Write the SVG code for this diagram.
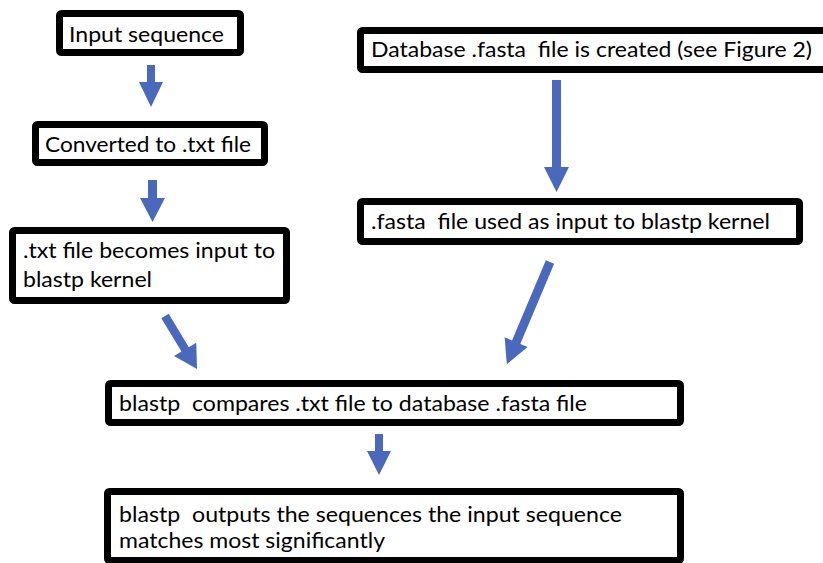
<svg xmlns="http://www.w3.org/2000/svg" width="823" height="563" viewBox="0 0 823 563">
<style>
.box{fill:#fff;stroke:#000;stroke-width:7;stroke-linejoin:round}
.t{font-family:Lato,"Open Sans","Liberation Sans",sans-serif;font-size:22px;fill:#000}
.arr{fill:#4A69BD}
</style>
<rect width="823" height="563" fill="#fff"/>
<g id="connectors">
<polygon class="arr" points="147,65 155,65 155,82 163,82 151,107 139,82 147,82"/>
<polygon class="arr" points="148,180 157,180 157,198 165,198 152.5,222 140,198 148,198"/>
<polygon class="arr" points="552,80 561,80 561,167 569,167 556.5,192 544,167 552,167"/>
<polygon class="arr" points="375,434 383,434 383,451 391,451 379,475 367,451 375,451"/>
<polygon class="arr" transform="translate(165,316) rotate(-31.1)" points="-4.3,0 4.3,0 4.3,39 13,39 0,62 -13,39 -4.3,39"/>
<polygon class="arr" transform="translate(550,262) rotate(22.9)" points="-4.5,0 4.5,0 4.5,87 12.5,87 0,111 -12.5,87 -4.5,87"/>
</g>
<g id="n1"><rect class="box" x="59.5" y="13.5" width="181" height="39" rx="2"/><text class="t" x="69" y="42" textLength="155" lengthAdjust="spacingAndGlyphs">Input sequence</text></g>
<g id="n2"><rect class="box" x="35.5" y="124.5" width="229" height="38" rx="2"/><text class="t" x="45" y="152" textLength="206" lengthAdjust="spacingAndGlyphs">Converted to .txt file</text></g>
<g id="n3"><rect class="box" x="12.5" y="230.5" width="274" height="70" rx="2"/><text class="t" x="23" y="258" textLength="252" lengthAdjust="spacingAndGlyphs">.txt file becomes input to</text><text class="t" x="23" y="287" textLength="129" lengthAdjust="spacingAndGlyphs">blastp kernel</text></g>
<g id="n4"><rect class="box" x="360.5" y="30.5" width="470" height="39" rx="2"/><text class="t" x="371" y="57" textLength="441" lengthAdjust="spacingAndGlyphs" xml:space="preserve">Database .fasta  file is created (see Figure 2)</text></g>
<g id="n5"><rect class="box" x="360.5" y="201.5" width="439" height="40" rx="2"/><text class="t" x="371" y="229" textLength="399" lengthAdjust="spacingAndGlyphs" xml:space="preserve">.fasta  file used as input to blastp kernel</text></g>
<g id="n6"><rect class="box" x="108.5" y="383.5" width="572" height="39" rx="2"/><text class="t" x="119" y="411" textLength="468" lengthAdjust="spacingAndGlyphs" xml:space="preserve">blastp  compares .txt file to database .fasta file</text></g>
<g id="n7"><rect class="box" x="107.5" y="491.5" width="573" height="69" rx="2"/><text class="t" x="119" y="522" textLength="503" lengthAdjust="spacingAndGlyphs" xml:space="preserve">blastp  outputs the sequences the input sequence</text><text class="t" x="119" y="548" textLength="266" lengthAdjust="spacingAndGlyphs">matches most significantly</text></g>
</svg>
